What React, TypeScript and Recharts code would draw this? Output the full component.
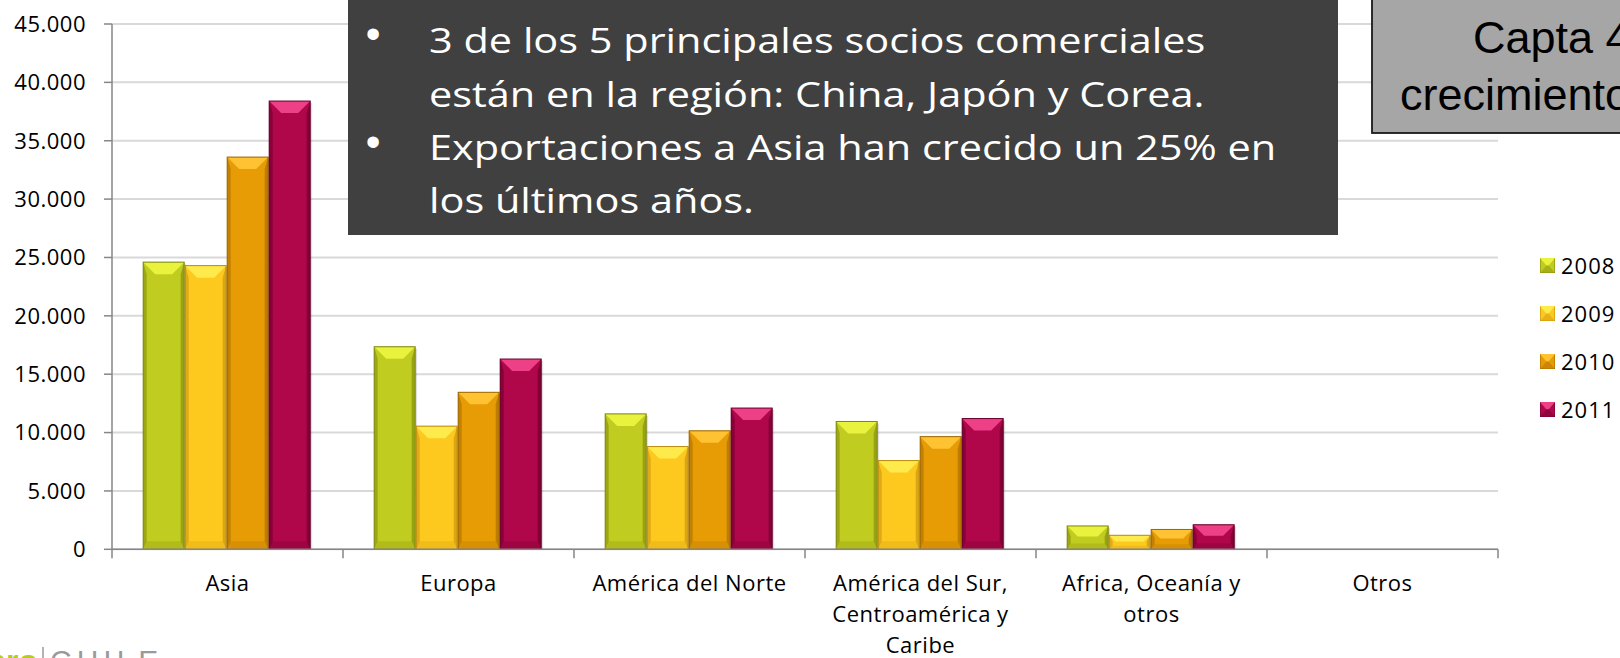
import { BarChart, Bar, XAxis, YAxis, CartesianGrid, Legend } from 'recharts'

// Exportaciones por destino (millones US$)
const regions = [
  'Asia',
  'Europa',
  'América del Norte',
  'América del Sur, Centroamérica y Caribe',
  'Africa, Oceanía y otros',
  'Otros',
]
const years = ['2008', '2009', '2010', '2011']
const y2008 = [24600, 17350, 11600, 10950, 2000, 0]
const y2009 = [24300, 10550, 8800, 7600, 1200, 0]
const y2010 = [33600, 13450, 10150, 9650, 1700, 0]
const y2011 = [38400, 16300, 12100, 11200, 2100, 0]
const yTicks = [0, 5000, 10000, 15000, 20000, 25000, 30000, 35000, 40000, 45000]

const noteLines = [
  '3 de los 5 principales socios comerciales',
  'están en la región: China, Japón y Corea.',
  'Exportaciones a Asia han crecido un 25% en',
  'los últimos años.',
]
const sideNote = ['Capta 4', 'crecimiento']

const FONT = '"Open Sans", "DejaVu Sans", sans-serif'
const ARIAL = '"Liberation Sans", Arial, sans-serif'
const AXIS = '#868686'

// main / top bevel / side shade / edge
const palette = [
  { main: '#c0cc1f', top: '#e9f23c', side: '#949e12', edge: '#7d8610' },
  { main: '#fec91e', top: '#ffea4c', side: '#d7a214', edge: '#b88a10' },
  { main: '#e79c06', top: '#ffc232', side: '#b97a02', edge: '#9a6600' },
  { main: '#b0064a', top: '#ee4087', side: '#7e0035', edge: '#66002a' },
]

const chartData = regions.map((region, i) => ({
  region,
  y2008: y2008[i],
  y2009: y2009[i],
  y2010: y2010[i],
  y2011: y2011[i],
}))

const fmt = (v: number) => String(v).replace(/\B(?=(\d{3})+(?!\d))/g, '.')

// greedy word wrap measured with canvas
let ctx: CanvasRenderingContext2D | null = null
function wrap(label: string, maxW: number, font: string) {
  if (!ctx) ctx = document.createElement('canvas').getContext('2d')
  if (!ctx) return [label]
  ctx.font = font
  const words = label.split(' ')
  const lines: string[] = []
  let cur = ''
  for (const w of words) {
    const next = cur ? cur + ' ' + w : w
    if (cur && ctx.measureText(next).width > maxW) {
      lines.push(cur)
      cur = w
    } else {
      cur = next
    }
  }
  if (cur) lines.push(cur)
  return lines
}

const BevelBar = (props: any) => {
  const { x, y, width: w, height: h, colors } = props
  if (!h || h <= 0) return null
  const b = Math.min(12, h * 0.45)
  const s = Math.min(3.5, w / 6)
  const bb = Math.min(8, h * 0.25)
  return (
    <g>
      <rect x={x + 2} y={y + 2} width={w} height={h - 2} fill="rgba(0,0,0,0.12)" />
      <rect x={x} y={y} width={w} height={h} fill={colors.main} />
      <polygon
        points={`${x},${y} ${x + w},${y} ${x + w - b},${y + b} ${x + b},${y + b}`}
        fill={colors.top}
      />
      <polygon
        points={`${x},${y} ${x + s},${y + b} ${x + s},${y + h - bb} ${x},${y + h}`}
        fill={colors.side}
        opacity={0.8}
      />
      <polygon
        points={`${x + w},${y} ${x + w - s},${y + b} ${x + w - s},${y + h - bb} ${x + w},${y + h}`}
        fill={colors.side}
        opacity={0.9}
      />
      <polygon
        points={`${x},${y + h} ${x + s},${y + h - bb} ${x + w - s},${y + h - bb} ${x + w},${y + h}`}
        fill={colors.side}
        opacity={0.35}
      />
      <rect x={x} y={y} width={w} height={h} fill="none" stroke={colors.edge} strokeWidth={1} />
    </g>
  )
}

const RegionTick = (props: any) => {
  const { x, y, payload, index } = props
  const half = payload.offset || 115.5
  const lines = wrap(String(payload.value), 205, `22px ${FONT}`)
  return (
    <g>
      <line x1={x - half} x2={x - half} y1={y} y2={y + 9} stroke={AXIS} strokeWidth={1.5} />
      {index === regions.length - 1 && (
        <line x1={x + half} x2={x + half} y1={y} y2={y + 9} stroke={AXIS} strokeWidth={1.5} />
      )}
      <text
        x={x}
        y={y + 42}
        textAnchor="middle"
        fill="#000"
        fontSize={22}
        fontFamily={FONT}
        letterSpacing={0.5}
      >
        {lines.map((ln, i) => (
          <tspan key={i} x={x} dy={i === 0 ? 0 : 31}>
            {ln}
          </tspan>
        ))}
      </text>
    </g>
  )
}

const LegendBox = () => (
  <div style={{ fontFamily: FONT, fontSize: 22, letterSpacing: 1, color: '#000' }}>
    {years.map((yr, i) => (
      <div key={yr} style={{ display: 'flex', alignItems: 'center', height: 48 }}>
        <svg width={15} height={15} style={{ marginRight: 6 }}>
          <rect x={0} y={0} width={15} height={15} fill={palette[i].main} stroke={palette[i].edge} />
          <polygon points="0,0 15,0 9,7 6,7" fill={palette[i].top} />
          <polygon points="0,15 15,15 9,8 6,8" fill={palette[i].side} opacity={0.6} />
        </svg>
        <span>{yr}</span>
      </div>
    ))}
  </div>
)

export default function App() {
  const sx = 1.185
  return (
    <div
      style={{
        position: 'absolute',
        left: 0,
        top: 0,
        width: 1620,
        height: 658,
        overflow: 'hidden',
        background: '#fff',
        fontFamily: FONT,
      }}
    >
      <BarChart
        width={1620}
        height={658}
        data={chartData}
        margin={{ top: 24, right: 122, bottom: 48.7, left: 0 }}
        barCategoryGap="13.5%"
        barGap={1}
      >
        <CartesianGrid vertical={false} stroke="#d9d9d9" strokeWidth={2} />
        <XAxis
          dataKey="region"
          interval={0}
          height={60}
          tickSize={0}
          tickMargin={0}
          tickLine={false}
          stroke={AXIS}
          strokeWidth={1.5}
          tick={<RegionTick />}
        />
        <YAxis
          width={112}
          domain={[0, 45000]}
          ticks={yTicks}
          interval={0}
          tickSize={8}
          tickMargin={18}
          stroke={AXIS}
          strokeWidth={1.5}
          tickFormatter={fmt}
          tick={{ fill: '#000', fontSize: 22, fontFamily: FONT, letterSpacing: 0.5 }}
        />
        {years.map((yr, i) => (
          <Bar
            key={yr}
            dataKey={'y' + yr}
            name={yr}
            fill={palette[i].main}
            shape={<BevelBar colors={palette[i]} />}
            isAnimationActive={false}
          />
        ))}
        <Legend
          layout="vertical"
          align="center"
          verticalAlign="middle"
          content={<LegendBox />}
          wrapperStyle={{ left: 1540, top: 241, width: 80 }}
        />
      </BarChart>

      <svg
        width={1620}
        height={658}
        style={{ position: 'absolute', left: 0, top: 0, pointerEvents: 'none' }}
      >
        {/* caja de notas */}
        <rect x={348} y={0} width={990} height={235} fill="#404040" />
        {[33, 141].map((cy) => (
          <text
            key={cy}
            x={373}
            y={cy}
            textAnchor="middle"
            dominantBaseline="central"
            fill="#fff"
            fontSize={42}
            fontFamily={ARIAL}
          >
            •
          </text>
        ))}
        {noteLines.map((line, i) => (
          <text
            key={i}
            transform={`translate(429, ${[53, 107, 160, 213][i]}) scale(${sx}, 1)`}
            fill="#fff"
            fontSize={35}
            fontFamily={FONT}
          >
            {line}
          </text>
        ))}

        {/* caja gris */}
        <rect x={1372} y={-5} width={260} height={138} fill="#a6a6a6" stroke="#1a1a1a" strokeWidth={1.8} />
        <text x={1473} y={53} fontSize={45} fill="#000" fontFamily={ARIAL}>
          {sideNote[0]}
        </text>
        <text x={1400} y={110} fontSize={45} fill="#000" fontFamily={ARIAL}>
          {sideNote[1]}
        </text>

        {/* logo */}
        <text x={38} y={672} textAnchor="end" fontSize={32} fontWeight="bold" fill="#b7cc1f" fontFamily={ARIAL}>
          pro
        </text>
        <line x1={43} x2={43} y1={647} y2={658} stroke="#9a9a9a" strokeWidth={1.5} />
        <text x={50} y={671} fontSize={30} letterSpacing={5} fill="#9a9a9a" fontFamily={ARIAL}>
          CHILE
        </text>
      </svg>
    </div>
  )
}
